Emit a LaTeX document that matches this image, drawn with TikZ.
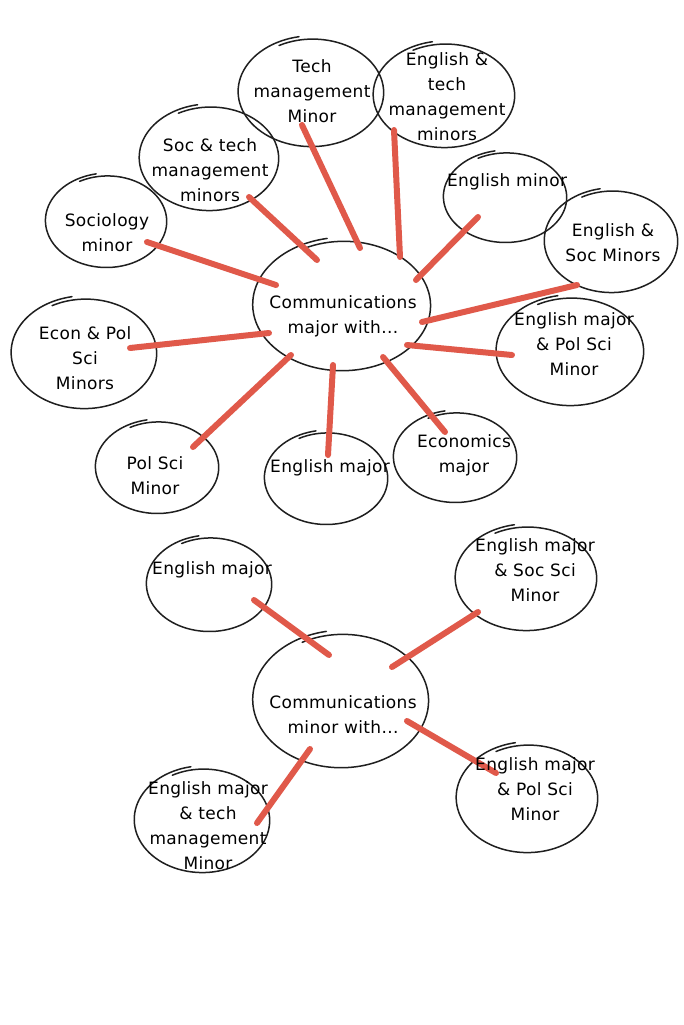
\documentclass[tikz,border=0pt]{standalone}
\usepackage{fontspec}
\setmainfont{DejaVu Sans}[LetterSpace=2]
\usetikzlibrary{shapes.geometric}
\definecolor{conred}{HTML}{E0594A}
\tikzset{
  bubble/.style={draw=none, ellipse, inner sep=0pt},
  skline/.style={draw=black!88, line width=1.5pt, line cap=round},
  lbl/.style={align=center, inner sep=0pt, font=\fontsize{17}{25}\selectfont},
  conn/.style={draw=conred, line width=6pt, line cap=round}
}
% sketchy ellipse outline round a named node: name, rx, ry
\newcommand\skell[3]{%
  \draw[skline, shift={(#1.center)}] plot[domain=-118:260, samples=100, smooth]
    ({#2*cos(\x)*(0.975+0.065*(\x+118)/378)}, {#3*sin(\x)*(0.975+0.065*(\x+118)/378)});}
\begin{document}
\begin{tikzpicture}[x=1pt,y=-1pt]
\useasboundingbox[fill=white] (0,0) rectangle (683,1025);
% top cluster bubbles
\node[bubble, minimum width=144, minimum height=108] (tm) at (312,92) {};
\node[bubble, minimum width=140, minimum height=104] (etm) at (445,95) {};
\node[bubble, minimum width=138, minimum height=104] (stm) at (210,158) {};
\node[bubble, minimum width=120, minimum height=92] (soc) at (107,221) {};
\node[bubble, minimum width=122, minimum height=90] (em) at (506,197) {};
\node[bubble, minimum width=132, minimum height=102] (es) at (612,241) {};
\node[bubble, minimum width=176, minimum height=130] (cmaj) at (343,305) {};
\node[bubble, minimum width=144, minimum height=110] (ep) at (85,353) {};
\node[bubble, minimum width=146, minimum height=108] (empol) at (571,351) {};
\node[bubble, minimum width=122, minimum height=92] (ps) at (158,467) {};
\node[bubble, minimum width=122, minimum height=92] (ejm) at (327,478) {};
\node[bubble, minimum width=122, minimum height=90] (eco) at (456,457) {};
% bottom cluster bubbles
\node[bubble, minimum width=124, minimum height=94] (ejm2) at (210,584) {};
\node[bubble, minimum width=140, minimum height=104] (emss) at (527,578) {};
\node[bubble, minimum width=174, minimum height=134] (cmin) at (342,700) {};
\node[bubble, minimum width=134, minimum height=104] (emtm) at (203,820) {};
\node[bubble, minimum width=140, minimum height=108] (emps) at (528,798) {};
% outlines
\skell{tm}{72}{54}
\skell{etm}{70}{52}
\skell{stm}{69}{52}
\skell{soc}{60}{46}
\skell{em}{61}{45}
\skell{es}{66}{51}
\skell{cmaj}{88}{65}
\skell{ep}{72}{55}
\skell{empol}{73}{54}
\skell{ps}{61}{46}
\skell{ejm}{61}{46}
\skell{eco}{61}{45}
\skell{ejm2}{62}{47}
\skell{emss}{70}{52}
\skell{cmin}{87}{67}
\skell{emtm}{67}{52}
\skell{emps}{70}{54}
% connectors
\draw[conn] ([shift={(40,21)}]soc.center) -- ([shift={(-67,-20)}]cmaj.center);
\draw[conn] ([shift={(39,39)}]stm.center) -- ([shift={(-26,-45)}]cmaj.center);
\draw[conn] ([shift={(-10,33)}]tm.center) -- ([shift={(17,-57)}]cmaj.center);
\draw[conn] ([shift={(-51,35)}]etm.center) -- ([shift={(57,-48)}]cmaj.center);
\draw[conn] ([shift={(-28,20)}]em.center) -- ([shift={(73,-25)}]cmaj.center);
\draw[conn] ([shift={(-35,44)}]es.center) -- ([shift={(79,17)}]cmaj.center);
\draw[conn] ([shift={(-59,4)}]empol.center) -- ([shift={(64,40)}]cmaj.center);
\draw[conn] ([shift={(-11,-25)}]eco.center) -- ([shift={(40,52)}]cmaj.center);
\draw[conn] ([shift={(1,-23)}]ejm.center) -- ([shift={(-10,60)}]cmaj.center);
\draw[conn] ([shift={(35,-20)}]ps.center) -- ([shift={(-52,50)}]cmaj.center);
\draw[conn] ([shift={(45,-5)}]ep.center) -- ([shift={(-74,28)}]cmaj.center);
\draw[conn] ([shift={(44,16)}]ejm2.center) -- ([shift={(-13,-45)}]cmin.center);
\draw[conn] ([shift={(-49,34)}]emss.center) -- ([shift={(50,-33)}]cmin.center);
\draw[conn] ([shift={(54,3)}]emtm.center) -- ([shift={(-32,49)}]cmin.center);
\draw[conn] ([shift={(-32,-25)}]emps.center) -- ([shift={(65,21)}]cmin.center);
% labels
\node[lbl] (ttm) at (312,91) {Tech\\management\\Minor};
\node[lbl] (tetm) at (447,97) {English \&\\tech\\management\\minors};
\node[lbl] (tstm) at (210,170) {Soc \& tech\\management\\minors};
\node[lbl] (tsoc) at (107,233) {Sociology\\minor};
\node[lbl] (tem) at (507,182) {English minor};
\node[lbl] (tes) at (613,243) {English \&\\Soc Minors};
\node[lbl] (tcmaj) at (343,316) {Communications\\major with...};
\node[lbl] (tep) at (85,358) {Econ \& Pol\\Sci\\Minors};
\node[lbl] (tempol) at (574,344) {English major\\\& Pol Sci\\Minor};
\node[lbl] (tps) at (155,476) {Pol Sci\\Minor};
\node[lbl] (tejm) at (330,468) {English major};
\node[lbl] (teco) at (464,455) {Economics\\major};
\node[lbl] (tejm2) at (212,570) {English major};
\node[lbl] (temss) at (535,570) {English major\\\& Soc Sci\\Minor};
\node[lbl] (tcmin) at (343,715) {Communications\\minor with...};
\node[lbl] (temtm) at (208,826) {English major\\\& tech\\management\\Minor};
\node[lbl] (temps) at (535,789) {English major\\\& Pol Sci\\Minor};
\end{tikzpicture}
\end{document}
